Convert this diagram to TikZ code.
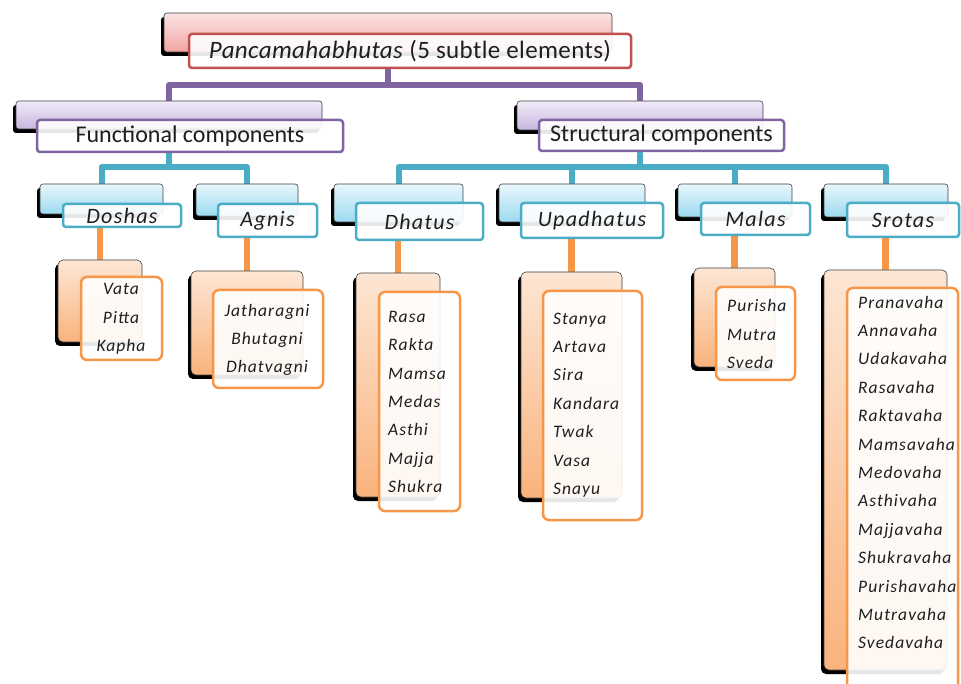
\documentclass[tikz,border=0pt]{standalone}
\usepackage{fontspec}
\setmainfont{Carlito}
\usetikzlibrary{shadows}
\definecolor{redC}{HTML}{C0504D}
\definecolor{pinkT}{HTML}{FBE4E4}
\definecolor{pinkB}{HTML}{F3A3A3}
\definecolor{purC}{HTML}{8064A2}
\definecolor{lavT}{HTML}{F1ECF8}
\definecolor{lavB}{HTML}{C7B6DF}
\definecolor{cyaC}{HTML}{4BACC6}
\definecolor{cyaT}{HTML}{E8F7FC}
\definecolor{cyaB}{HTML}{9CDAF0}
\definecolor{orC}{HTML}{F79646}
\definecolor{orT}{HTML}{FDE6D4}
\definecolor{orB}{HTML}{F9B37D}
\definecolor{txt}{HTML}{1E1E1E}
\pgfdeclarelayer{bg}
\pgfsetlayers{bg,main}
\newcommand\mybox[7]{\node[#2,minimum width={#5pt-#3pt},minimum height={#6pt-#4pt},inner sep=0pt] (#1) at ({(#3+#5)/2},{(#4+#6)/2}) {#7};}
\tikzset{
  bk/.style={draw=black!75, line width=0.6pt, rounded corners=3pt,
    drop shadow={shadow xshift=-3pt, shadow yshift=-4pt, fill=black, opacity=1}},
  bkR/.style={bk, top color=pinkT, bottom color=pinkB},
  bkP/.style={bk, top color=lavT, bottom color=lavB},
  bkC/.style={bk, top color=cyaT, bottom color=cyaB},
  bkO/.style={bk, top color=orT, bottom color=orB, rounded corners=5pt},
  fr/.style={fill=white, fill opacity=0.9, text opacity=1, line width=2.5pt, rounded corners=3pt, text=txt},
  frR/.style={fr, draw=redC, font=\fontsize{25}{28}\selectfont\addfontfeature{LetterSpace=1.5}},
  frP/.style={fr, draw=purC, font=\fontsize{24}{28}\selectfont},
  frC/.style={fr, draw=cyaC, font=\fontsize{22}{25}\selectfont\itshape\addfontfeature{LetterSpace=6}},
  frO/.style={fr, draw=orC, rounded corners=6pt},
  leaftxt/.style={inner sep=0pt, text=txt, font=\fontsize{17.5}{28.4}\selectfont\itshape\addfontfeature{LetterSpace=6}},
  pline/.style={draw=purC, line width=6pt, line join=round},
  cline/.style={draw=cyaC, line width=6pt, line join=round},
  oline/.style={draw=orC, line width=6.5pt},
}
\begin{document}
\begin{tikzpicture}[x=1pt,y=-1pt]
\useasboundingbox (0,0) rectangle (961,684);
% level 1
\mybox{titleB}{bkR}{164}{13}{612}{52}{}
\mybox{titleF}{frR}{189}{34}{631}{68}{\textit{Pancamahabhutas} (5 subtle elements)}
% level 2
\mybox{funcB}{bkP}{16}{101}{322}{129}{}
\mybox{funcF}{frP}{37}{120}{343}{152}{Functional components}
\mybox{strB}{bkP}{517}{101}{763}{130}{}
\mybox{strF}{frP}{539}{120}{784}{151}{Structural components}
% level 3
\mybox{doshB}{bkC}{40}{184}{163}{214}{}
\mybox{doshF}{frC}{63}{204}{181}{227}{Doshas}
\mybox{agnB}{bkC}{196}{184}{298}{216}{}
\mybox{agnF}{frC}{218}{204}{317}{237}{Agnis}
\mybox{dhaB}{bkC}{334}{184}{463}{222}{}
\mybox{dhaF}{frC}{356}{203}{483}{240}{Dhatus}
\mybox{upaB}{bkC}{499}{184}{645}{222}{}
\mybox{upaF}{frC}{521}{203}{663}{238}{Upadhatus}
\mybox{malB}{bkC}{678}{184}{792}{217}{}
\mybox{malF}{frC}{701}{203}{810}{235}{Malas}
\mybox{sroB}{bkC}{824}{184}{948}{217}{}
\mybox{sroF}{frC}{847}{203}{959}{237}{Srotas}
% leaves
\mybox{doshLB}{bkO}{58}{260}{142}{342}{}
\mybox{doshLF}{frO}{81}{277}{162}{360}{}
\node[leaftxt, align=center] (doshT) at (121,319) {Vata\\Pitta\\Kapha};
\mybox{agnLB}{bkO}{191}{271}{303}{375}{}
\mybox{agnLF}{frO}{213}{290}{323}{388}{}
\node[leaftxt, align=center] (agnT) at (267,340) {Jatharagni\\Bhutagni\\Dhatvagni};
\mybox{dhaLB}{bkO}{356}{273}{440}{497}{}
\mybox{dhaLF}{frO}{379}{292}{460}{511}{}
\node[leaftxt, align=left, anchor=west] (dhaT) at (388,402) {Rasa\\Rakta\\Mamsa\\Medas\\Asthi\\Majja\\Shukra};
\mybox{upaLB}{bkO}{521}{272}{622}{498}{}
\mybox{upaLF}{frO}{543}{291}{642}{520}{}
\node[leaftxt, align=left, anchor=west] (upaT) at (553,405) {Stanya\\Artava\\Sira\\Kandara\\Twak\\Vasa\\Snayu};
\mybox{malLB}{bkO}{694}{268}{775}{367}{}
\mybox{malLF}{frO}{716}{287}{795}{380}{}
\node[leaftxt, align=left, anchor=west] (malT) at (727,334) {Purisha\\Mutra\\Sveda};
\mybox{sroLB}{bkO}{824}{270}{947}{670}{}
\mybox{sroLF}{frO}{847}{288}{958}{700}{}
\node[leaftxt, align=left, anchor=west] (sroT) at (858,472.5) {Pranavaha\\Annavaha\\Udakavaha\\Rasavaha\\Raktavaha\\Mamsavaha\\Medovaha\\Asthivaha\\Majjavaha\\Shukravaha\\Purishavaha\\Mutravaha\\Svedavaha};
% connectors
\coordinate (busA) at (0,85);
\coordinate (busF) at (0,167);
\coordinate (busS) at (0,167);
\begin{pgfonlayer}{bg}
\draw[pline] (titleB.south |- titleF.south) -- (titleB.south |- busA) -| (funcB.north);
\draw[pline] (titleB.south |- busA) -| (strB.north);
\draw[cline] (funcB.south |- funcF.south) -- (funcB.south |- busF) -| (doshB.north);
\draw[cline] (funcB.south |- busF) -| (agnB.north);
\draw[cline] (strB.south |- strF.south) -- (strB.south |- busS) -| (dhaB.north);
\draw[cline] (strB.south |- busS) -| (upaB.north);
\draw[cline] (strB.south |- busS) -| (malB.north);
\draw[cline] (strB.south |- busS) -| (sroB.north);
\draw[oline] (doshLB.north |- doshF.south) -- (doshLB.north);
\draw[oline] (agnLB.north |- agnF.south) -- (agnLB.north);
\draw[oline] (dhaLB.north |- dhaF.south) -- (dhaLB.north);
\draw[oline] (upaLB.north |- upaF.south) -- (upaLB.north);
\draw[oline] (malLB.north |- malF.south) -- (malLB.north);
\draw[oline] (sroLB.north |- sroF.south) -- (sroLB.north);
\end{pgfonlayer}
\end{tikzpicture}
\end{document}
